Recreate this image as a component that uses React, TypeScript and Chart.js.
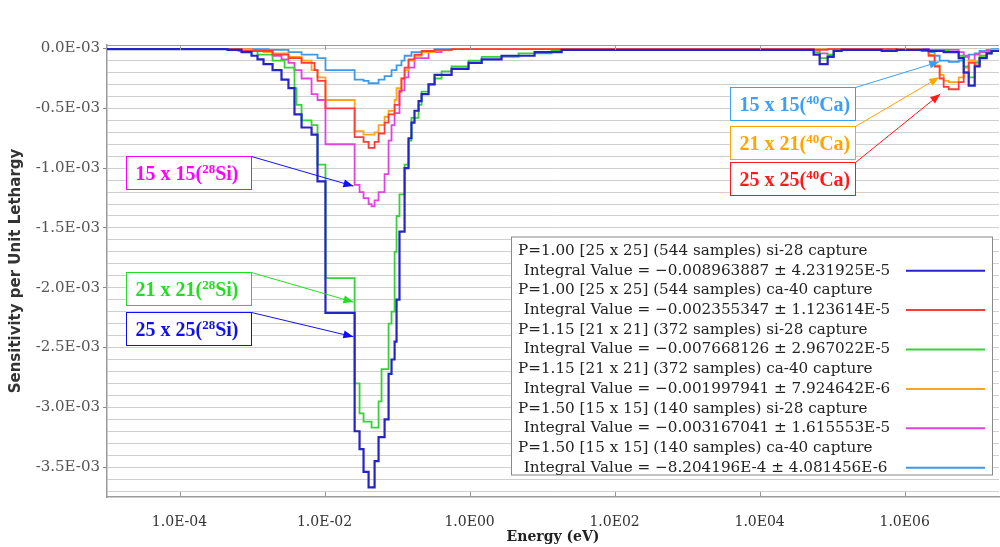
import React, { useEffect, useRef } from "react";
import { Chart, registerables } from "chart.js";

Chart.register(...registerables);

// Energy group lower edges (eV); each value holds from its edge to the next edge
const energyEdges = [
  1e-5, 4.59e-4, 6.52e-4, 7.16e-4, 9.84e-4, 1.19e-3, 1.44e-3, 1.69e-3, 1.92e-3, 2.55e-3,
  2.81e-3, 3.18e-3, 3.85e-3, 4.11e-3, 4.82e-3, 6.62e-3, 7.28e-3, 8.0e-3, 1.03e-2, 2.6e-2,
  3.04e-2, 3.45e-2, 4.05e-2, 4.45e-2, 4.9e-2, 5.56e-2, 6.11e-2, 6.73e-2, 7.64e-2, 8.39e-2,
  9.25e-2, 9.84e-2, 0.108, 0.115, 0.127, 0.144, 0.158, 0.174, 0.198, 0.218,
  0.272, 0.329, 0.411, 0.565, 0.968, 1.47, 2.76, 4.74, 7.88, 13.5,
  18.6, 1.07e4, 5.56e4, 6.73e4, 8.67e4, 1.05e5, 1.35e5, 4.82e5, 7.76e5, 1.71e6,
  2.14e6, 2.59e6, 3.04e6, 3.45e6, 4.05e6, 5.56e6, 6.52e6, 7.64e6, 9.25e6, 1.08e7,
  1.35e7, 1.58e7, 2.0e7,
];

// Sensitivity per unit lethargy, in units of 1E-03
const si28_25x25 = [
  -0.005, -0.01, -0.01, -0.03, -0.06, -0.09, -0.13, -0.13, -0.18, -0.26,
  -0.26, -0.33, -0.55, -0.55, -0.66, -0.72, -0.72, -1.11, -2.21, -3.2,
  -3.35, -3.54, -3.67, -3.67, -3.45, -3.25, -3.25, -3.1, -2.72, -2.6,
  -2.45, -2.1, -1.53, -1.53, -1.0, -0.75, -0.62, -0.52, -0.44, -0.38,
  -0.3, -0.22, -0.22, -0.17, -0.12, -0.09, -0.06, -0.06, -0.03, -0.03,
  -0.01, -0.01, -0.05, -0.13, -0.07, -0.02, -0.01, -0.02, -0.01, -0.01,
  -0.02, -0.02, -0.02, -0.03, -0.03, -0.08, -0.2, -0.31, -0.15, -0.08,
  -0.04, -0.02, -0.02,
];
const ca40_25x25 = [
  -0.005, -0.005, -0.005, -0.02, -0.02, -0.02, -0.02, -0.02, -0.05, -0.05,
  -0.05, -0.08, -0.08, -0.08, -0.12, -0.12, -0.18, -0.27, -0.5, -0.74,
  -0.74, -0.78, -0.83, -0.83, -0.78, -0.71, -0.71, -0.62, -0.55, -0.55,
  -0.47, -0.47, -0.36, -0.25, -0.16, -0.09, -0.09, -0.05, -0.05, -0.02,
  -0.02, -0.01, -0.01, -0.005, -0.005, -0.005, -0.005, -0.005, -0.005, -0.005,
  -0.005, -0.005, -0.01, -0.01, -0.005, -0.005, -0.005, -0.005, -0.01, -0.02,
  -0.06, -0.15, -0.25, -0.32, -0.34, -0.28, -0.2, -0.12, -0.14, -0.08,
  -0.04, -0.02, -0.02,
];
const si28_21x21 = [
  -0.005, -0.005, -0.02, -0.02, -0.02, -0.05, -0.05, -0.05, -0.1, -0.1,
  -0.16, -0.16, -0.33, -0.47, -0.6, -0.64, -0.64, -0.97, -1.92, -2.8,
  -3.05, -3.12, -3.12, -3.17, -3.17, -2.95, -2.68, -2.68, -2.3, -2.2,
  -1.7, -1.4, -1.22, -1.22, -0.97, -0.77, -0.58, -0.58, -0.47, -0.36,
  -0.3, -0.25, -0.19, -0.15, -0.1, -0.07, -0.07, -0.04, -0.04, -0.02,
  -0.01, -0.01, -0.03, -0.08, -0.05, -0.02, -0.01, -0.01, -0.01, -0.01,
  -0.02, -0.02, -0.02, -0.02, -0.03, -0.06, -0.15, -0.24, -0.12, -0.06,
  -0.03, -0.02, -0.02,
];
const ca40_21x21 = [
  -0.005, -0.005, -0.005, -0.005, -0.02, -0.02, -0.03, -0.03, -0.04, -0.04,
  -0.04, -0.07, -0.07, -0.07, -0.1, -0.18, -0.18, -0.24, -0.43, -0.69,
  -0.69, -0.72, -0.72, -0.72, -0.7, -0.64, -0.64, -0.57, -0.52, -0.52,
  -0.43, -0.33, -0.33, -0.25, -0.18, -0.1, -0.1, -0.06, -0.06, -0.03,
  -0.03, -0.01, -0.01, -0.005, -0.005, -0.005, -0.005, -0.005, -0.005, -0.005,
  -0.005, -0.005, -0.005, -0.005, -0.005, -0.005, -0.005, -0.005, -0.005, -0.01,
  -0.05, -0.14, -0.22, -0.27, -0.28, -0.24, -0.16, -0.1, -0.11, -0.06,
  -0.03, -0.01, -0.01,
];
const si28_15x15 = [
  -0.005, -0.005, -0.005, -0.005, -0.01, -0.02, -0.02, -0.03, -0.06, -0.09,
  -0.09, -0.12, -0.18, -0.18, -0.25, -0.38, -0.38, -0.43, -0.8, -1.14,
  -1.2, -1.25, -1.3, -1.32, -1.27, -1.2, -1.2, -1.05, -0.77, -0.64,
  -0.54, -0.54, -0.35, -0.35, -0.24, -0.16, -0.16, -0.08, -0.08, -0.08,
  -0.03, -0.03, -0.01, -0.005, -0.005, -0.005, -0.005, -0.005, -0.005, -0.005,
  -0.005, -0.005, -0.01, -0.04, -0.06, -0.01, -0.005, -0.005, -0.005, -0.005,
  -0.01, -0.01, -0.01, -0.01, -0.01, -0.03, -0.06, -0.1, -0.05, -0.03,
  -0.02, -0.01, -0.01,
];
const ca40_15x15 = [
  -0.005, -0.005, -0.005, -0.005, -0.005, -0.005, -0.005, -0.01, -0.01, -0.01,
  -0.01, -0.03, -0.03, -0.03, -0.05, -0.05, -0.05, -0.08, -0.18, -0.26,
  -0.26, -0.27, -0.29, -0.29, -0.29, -0.26, -0.26, -0.23, -0.23, -0.18,
  -0.18, -0.14, -0.14, -0.1, -0.06, -0.06, -0.03, -0.03, -0.03, -0.03,
  -0.03, -0.005, -0.005, -0.005, -0.005, -0.005, -0.005, -0.005, -0.005, -0.005,
  -0.005, -0.005, -0.005, -0.005, -0.005, -0.005, -0.005, -0.005, -0.005, -0.005,
  -0.03, -0.06, -0.1, -0.1, -0.11, -0.1, -0.07, -0.05, -0.04, -0.02,
  -0.01, -0.005, -0.005,
];

const seriesNames = [
  "P=1.00 [25 x 25] (544 samples) si-28 capture",
  "P=1.00 [25 x 25] (544 samples) ca-40 capture",
  "P=1.15 [21 x 21] (372 samples) si-28 capture",
  "P=1.15 [21 x 21] (372 samples) ca-40 capture",
  "P=1.50 [15 x 15] (140 samples) si-28 capture",
  "P=1.50 [15 x 15] (140 samples) ca-40 capture",
];
const integralValues = [
  " Integral Value = \u22120.008963887 \u00b1 4.231925E-5",
  " Integral Value = \u22120.002355347 \u00b1 1.123614E-5",
  " Integral Value = \u22120.007668126 \u00b1 2.967022E-5",
  " Integral Value = \u22120.001997941 \u00b1 7.924642E-6",
  " Integral Value = \u22120.003167041 \u00b1 1.615553E-5",
  " Integral Value = \u22128.204196E-4 \u00b1 4.081456E-6",
];
const seriesValues = [si28_25x25, ca40_25x25, si28_21x21, ca40_21x21, si28_15x15, ca40_15x15];
const seriesColors = ["#2424c8", "#ff3a3a", "#38d038", "#ffa41c", "#e043e0", "#3d9ae8"];

const xTickValues = [1e-4, 1e-2, 1, 1e2, 1e4, 1e6];
const yLabelTicks = [0, -0.5, -1.0, -1.5, -2.0, -2.5, -3.0, -3.5];

// Callout labels: text, colour, box anchor (energy, value) and arrow tip (energy, value)
const callouts = [
  { size: "15 x 15(", mass: "28", el: "Si)", color: "#ff00ff", arrow: "#1010ff", boxE: 1.8e-5, boxV: -0.9, tipE: 2.5e-2, tipV: -1.15 },
  { size: "21 x 21(", mass: "28", el: "Si)", color: "#22dd22", arrow: "#22dd22", boxE: 1.8e-5, boxV: -1.87, tipE: 2.5e-2, tipV: -2.12 },
  { size: "25 x 25(", mass: "28", el: "Si)", color: "#1010ee", arrow: "#1010ee", boxE: 1.8e-5, boxV: -2.2, tipE: 2.5e-2, tipV: -2.41 },
  { size: "15 x 15(", mass: "40", el: "Ca)", color: "#3d9ef5", arrow: "#3d9ef5", boxE: 3.85e3, boxV: -0.32, tipE: 3.0e6, tipV: -0.11 },
  { size: "21 x 21(", mass: "40", el: "Ca)", color: "#ffa500", arrow: "#ffa500", boxE: 3.85e3, boxV: -0.65, tipE: 3.0e6, tipV: -0.24 },
  { size: "25 x 25(", mass: "40", el: "Ca)", color: "#ff1a1a", arrow: "#ff1a1a", boxE: 3.85e3, boxV: -0.95, tipE: 3.1e6, tipV: -0.38 },
];

const isMajorY = (v: number) => yLabelTicks.some((t) => Math.abs(t - v) < 1e-6);

function drawArrow(ctx: CanvasRenderingContext2D, x1: number, y1: number, x2: number, y2: number, color: string) {
  ctx.strokeStyle = color;
  ctx.fillStyle = color;
  ctx.lineWidth = 1;
  ctx.beginPath();
  ctx.moveTo(x1, y1);
  ctx.lineTo(x2, y2);
  ctx.stroke();
  const a = Math.atan2(y2 - y1, x2 - x1);
  const L = 10;
  const W = 4;
  ctx.beginPath();
  ctx.moveTo(x2, y2);
  ctx.lineTo(x2 - L * Math.cos(a) + W * Math.sin(a), y2 - L * Math.sin(a) - W * Math.cos(a));
  ctx.lineTo(x2 - L * Math.cos(a) - W * Math.sin(a), y2 - L * Math.sin(a) + W * Math.cos(a));
  ctx.closePath();
  ctx.fill();
}

const overlayPlugin = {
  id: "overlay",
  afterDatasetsDraw(chart: any) {
    const { ctx, chartArea: a, scales } = chart;
    const xs = scales.x;
    const ys = scales.y;
    ctx.save();
    // frame: top border and inner tick marks
    ctx.strokeStyle = "#9a9a9a";
    ctx.lineWidth = 1;
    ctx.beginPath();
    ctx.moveTo(a.left, a.top + 0.5);
    ctx.lineTo(a.right, a.top + 0.5);
    for (const v of xTickValues) {
      const px = Math.round(xs.getPixelForValue(v)) + 0.5;
      ctx.moveTo(px, a.top);
      ctx.lineTo(px, a.top + 5);
      ctx.moveTo(px, a.bottom);
      ctx.lineTo(px, a.bottom - 5);
    }
    ctx.stroke();

    // legend box
    const lx = a.left + 404;
    const ly = a.top + 191.5;
    const lw = 481;
    const lh = 238;
    ctx.fillStyle = "#ffffff";
    ctx.fillRect(lx, ly, lw, lh);
    ctx.strokeStyle = "#888888";
    ctx.strokeRect(lx + 0.5, ly + 0.5, lw, lh);
    let fs = 14;
    ctx.font = `${fs}px "DejaVu Serif"`;
    const w0 = ctx.measureText(seriesNames[0]).width;
    fs = (fs * 350) / w0;
    ctx.font = `${fs}px "DejaVu Serif"`;
    ctx.textBaseline = "middle";
    ctx.textAlign = "left";
    ctx.fillStyle = "#222222";
    chart.data.datasets.forEach((ds: any, i: number) => {
      const y1 = ly + 14.5 + i * 2 * 19.7;
      const y2 = y1 + 19.7;
      ctx.fillStyle = "#222222";
      ctx.fillText(seriesNames[i], lx + 7, y1);
      ctx.fillText(integralValues[i], lx + 8, y2);
      ctx.strokeStyle = ds.borderColor;
      ctx.lineWidth = 2;
      ctx.beginPath();
      ctx.moveTo(lx + 395, y2);
      ctx.lineTo(lx + 474, y2);
      ctx.stroke();
    });

    // callouts
    const bw = 125;
    const bh = 33;
    for (const c of callouts) {
      const bx = Math.round(xs.getPixelForValue(c.boxE)) + 0.5;
      const by = Math.round(ys.getPixelForValue(c.boxV)) + 0.5;
      const tx = xs.getPixelForValue(c.tipE);
      const ty = ys.getPixelForValue(c.tipV);
      ctx.fillStyle = "#ffffff";
      ctx.fillRect(bx, by, bw, bh);
      ctx.strokeStyle = c.color;
      ctx.lineWidth = 1;
      ctx.strokeRect(bx, by, bw, bh);
      ctx.fillStyle = c.color;
      ctx.textBaseline = "alphabetic";
      ctx.font = 'bold 20px "Liberation Serif"';
      let x = bx + 9;
      const base = by + 23;
      ctx.fillText(c.size, x, base);
      x += ctx.measureText(c.size).width;
      ctx.font = 'bold 13px "Liberation Serif"';
      ctx.fillText(c.mass, x, base - 7);
      x += ctx.measureText(c.mass).width;
      ctx.font = 'bold 20px "Liberation Serif"';
      ctx.fillText(c.el, x, base);
      drawArrow(ctx, bx + bw, by, tx, ty, c.arrow);
    }
    ctx.restore();
  },
};

export default function App() {
  const ref = useRef<HTMLCanvasElement | null>(null);
  useEffect(() => {
    if (!ref.current) return;
    const datasets = seriesValues.map((vals, i) => ({
      label: seriesNames[i],
      data: energyEdges.map((e, k) => ({ x: e, y: vals[k] })),
      borderColor: seriesColors[i],
      backgroundColor: seriesColors[i],
      borderWidth: i === 0 ? 2.2 : 1.8,
      pointRadius: 0,
      stepped: true as const,
      fill: false,
    }));
    const chart = new Chart(ref.current, {
      type: "line",
      data: { datasets },
      options: {
        animation: false,
        responsive: false,
        devicePixelRatio: 1,
        layout: { padding: { top: 45, right: 1, left: 0, bottom: 0 } },
        plugins: { legend: { display: false }, tooltip: { enabled: false } },
        scales: {
          x: {
            type: "logarithmic",
            min: 1e-5,
            max: 2e7,
            afterBuildTicks: (scale: any) => {
              scale.ticks = xTickValues.map((v) => ({ value: v }));
            },
            afterFit: (scale: any) => {
              scale.height = 50;
            },
            grid: { display: false },
            border: { display: true, color: "#9a9a9a", width: 1.5 },
            ticks: {
              autoSkip: false,
              maxRotation: 0,
              padding: 9,
              color: "#333333",
              font: { family: "DejaVu Serif", size: 14 },
              callback: (v: any) => {
                const e = Math.round(Math.log10(Number(v)));
                return "1.0E" + (e < 0 ? "-" : "") + String(Math.abs(e)).padStart(2, "0");
              },
            },
            title: {
              display: true,
              text: "Energy (eV)",
              color: "#222222",
              font: { family: "DejaVu Serif", size: 14, weight: "bold" },
              padding: { top: 0, bottom: 1 },
            },
          },
          y: {
            type: "linear",
            min: -3.75,
            max: 0.03,
            afterBuildTicks: (scale: any) => {
              const t: any[] = [];
              for (let k = 0; k <= 37; k++) t.push({ value: -k / 10 });
              scale.ticks = t;
            },
            afterFit: (scale: any) => {
              scale.width = 107;
            },
            grid: {
              color: "#cfcfcf",
              lineWidth: 1,
              tickLength: 4,
              tickColor: (c: any) => (c.tick && isMajorY(c.tick.value) ? "#888888" : "rgba(0,0,0,0)"),
            },
            border: { display: true, color: "#9a9a9a", width: 1.5 },
            ticks: {
              autoSkip: false,
              padding: 3,
              color: "#555555",
              font: { family: "DejaVu Serif", size: 15 },
              callback: (v: any) => {
                const n = Number(v);
                if (!isMajorY(n)) return "";
                const r = Math.round(n * 10) / 10;
                return (r === 0 ? "0.0" : r.toFixed(1)) + "E-03";
              },
            },
            title: {
              display: true,
              text: "Sensitivity per Unit Lethargy",
              color: "#333333",
              font: { family: "DejaVu Sans", size: 15, weight: "bold" },
              padding: { top: 7, bottom: 0 },
            },
          },
        },
      },
      plugins: [overlayPlugin],
    });
    return () => chart.destroy();
  }, []);
  return (
    <div style={{ position: "fixed", left: 0, top: 0, width: 1000, height: 547, background: "#ffffff" }}>
      <canvas ref={ref} width={1000} height={547} style={{ width: 1000, height: 547, display: "block" }} />
    </div>
  );
}
